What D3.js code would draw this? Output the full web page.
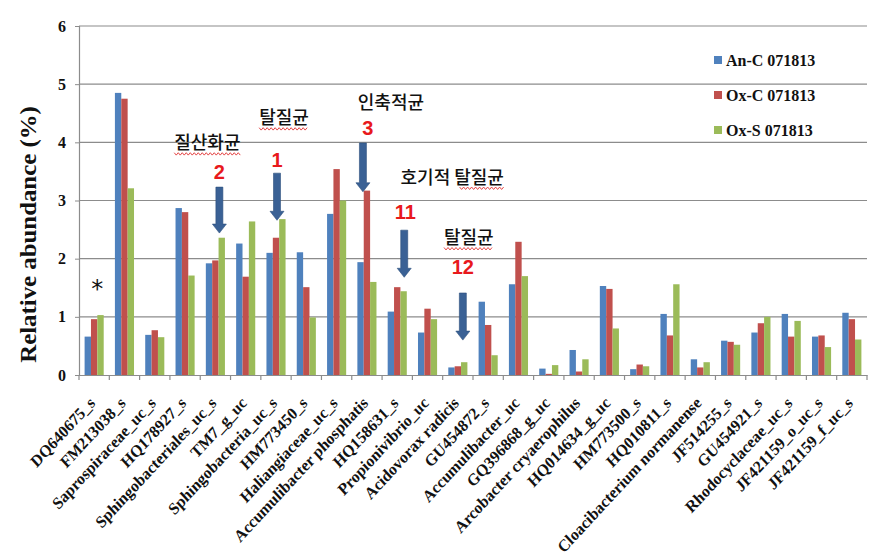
<!DOCTYPE html>
<html><head><meta charset="utf-8">
<script src="https://cdn.jsdelivr.net/npm/d3@7"></script>
<style>body{margin:0;background:#fff}svg{display:block}</style>
</head><body>
<script>
const categories = ["DQ640675_s","FM213038_s","Saprospiraceae_uc_s","HQ178927_s","Sphingobacteriales_uc_s","TM7_g_uc","Sphingobacteria_uc_s","HM773450_s","Haliangiaceae_uc_s","Accumulibacter phosphatis","HQ158631_s","Propionivibrio_uc","Acidovorax radicis","GU454872_s","Accumulibacter_uc","GQ396868_g_uc","Arcobacter cryaerophilus","HQ014634_g_uc","HM773500_s","HQ010811_s","Cloacibacterium normanense","JF514255_s","GU454921_s","Rhodocyclaceae_uc_s","JF421159_o_uc_s","JF421159_f_uc_s"];
const seriesNames = ["An-C 071813","Ox-C 071813","Ox-S 071813"];
const anC = [0.66,4.85,0.69,2.87,1.92,2.26,2.10,2.11,2.77,1.94,1.09,0.73,0.13,1.26,1.56,0.11,0.43,1.53,0.10,1.05,0.27,0.59,0.73,1.05,0.66,1.07];
const oxC = [0.96,4.75,0.77,2.80,1.97,1.69,2.36,1.51,3.54,3.17,1.51,1.14,0.15,0.86,2.29,0.02,0.06,1.48,0.18,0.68,0.13,0.57,0.89,0.66,0.68,0.96];
const oxS = [1.03,3.21,0.65,1.71,2.36,2.64,2.68,0.99,3.00,1.60,1.44,0.96,0.22,0.34,1.70,0.17,0.27,0.80,0.15,1.56,0.22,0.52,1.00,0.93,0.48,0.61];
const yTicks = [0,1,2,3,4,5,6];
const yTitle = "Relative abundance (%)";
const colors = ["#4F81BD","#C0504D","#9BBB59"];
// annotations: category, label text, number, vertical positions in data units, x offsets in px
const annotations = [
  {cat:"Sphingobacteriales_uc_s", label:"질산화균", num:"2", labelY:3.99, numY:3.49, arrowTop:3.23, arrowTip:2.44, labelDx:-8, numDx:4, arrowDx:4, wavy:[0,4]},
  {cat:"Sphingobacteria_uc_s", label:"탈질균", num:"1", labelY:4.42, numY:3.70, arrowTop:3.47, arrowTip:2.66, labelDx:8, numDx:1, arrowDx:1, wavy:[0,3]},
  {cat:"Accumulibacter phosphatis", label:"인축적균", num:"3", labelY:4.69, numY:4.25, arrowTop:3.99, arrowTip:3.15, labelDx:24, numDx:1, arrowDx:-4, wavy:null},
  {cat:"HQ158631_s", label:"호기적 탈질균", num:"11", labelY:3.40, numY:2.80, arrowTop:2.49, arrowTip:1.68, labelDx:55, numDx:8, arrowDx:7, wavy:[4,7]},
  {cat:"Acidovorax radicis", label:"탈질균", num:"12", labelY:2.36, numY:1.86, arrowTop:1.41, arrowTip:0.60, labelDx:11, numDx:5, arrowDx:5, wavy:[0,3]}
];
const starNote = {cat:"DQ640675_s", text:"*", y:1.58, dx:3};

const W = 887, H = 558;
const m = {left:79, right:20, top:26, bottom:183};
const svg = d3.select("body").append("svg").attr("width",W).attr("height",H);
const x = d3.scaleBand().domain(categories).range([m.left, W - m.right]).paddingInner(0).paddingOuter(0);
const xs = d3.scaleBand().domain(seriesNames).range([0, x.bandwidth()]).paddingOuter(0.88).paddingInner(0);
const y = d3.scaleLinear().domain([0,6]).range([H - m.bottom, m.top]);

// grid
svg.append("g").selectAll("line").data(yTicks.filter(d=>d>0)).join("line")
  .attr("x1", m.left).attr("x2", W - m.right)
  .attr("y1", d=>y(d)).attr("y2", d=>y(d))
  .attr("stroke","#8c8c8c").attr("stroke-width",1.2);

// bars
const data = [anC, oxC, oxS];
const g = svg.append("g");
seriesNames.forEach((s, si) => {
  g.append("g").selectAll("rect").data(categories).join("rect")
    .attr("x", c => x(c) + xs(s))
    .attr("width", xs.bandwidth())
    .attr("y", (c,i) => y(data[si][i]))
    .attr("height", (c,i) => y(0) - y(data[si][i]))
    .attr("fill", colors[si]);
});

// y axis
const yAxis = svg.append("g").attr("transform",`translate(${m.left},0)`)
  .call(d3.axisLeft(y).tickValues(yTicks).tickSize(4).tickPadding(9).tickFormat(d3.format("d")));
yAxis.select(".domain").attr("stroke","#8c8c8c").attr("stroke-width",1.2);
yAxis.selectAll(".tick line").attr("stroke","#8c8c8c");
yAxis.selectAll("text").attr("font-family","'Liberation Serif', serif").attr("font-weight","bold").attr("font-size",16).attr("fill","#111");

// x axis
const xAxis = svg.append("g").attr("transform",`translate(0,${y(0)})`)
  .call(d3.axisBottom(x).tickSize(0).tickFormat(""));
xAxis.select(".domain").attr("stroke","#8c8c8c").attr("stroke-width",1.2);
xAxis.selectAll(".tick").remove();
// boundary ticks
const bounds = categories.map(c => x(c)).concat([x(categories[categories.length-1]) + x.bandwidth()]);
svg.append("g").selectAll("line").data(bounds).join("line")
  .attr("x1", d=>d).attr("x2", d=>d).attr("y1", y(0)).attr("y2", y(0)+5)
  .attr("stroke","#8c8c8c").attr("stroke-width",1.2);

// x labels
svg.append("g").selectAll("text").data(categories).join("text")
  .attr("transform", c => `translate(${x(c)+x.bandwidth()/2+2},${y(0)+29}) scale(1,1.08) rotate(-45)`)
  .attr("text-anchor","end")
  .attr("font-family","'Liberation Serif', serif").attr("font-weight","bold").attr("font-size",15.6)
  .attr("fill","#111")
  .text(d=>d);

// y title
svg.append("text")
  .attr("transform", `translate(36,${(y(0)+y(6))/2+34}) scale(1,1.08) rotate(-90)`)
  .attr("text-anchor","middle")
  .attr("font-family","'Liberation Serif', serif").attr("font-weight","bold").attr("font-size",23)
  .attr("fill","#111")
  .text(yTitle);

// legend
const lg = svg.append("g").attr("transform","translate(714,60)");
seriesNames.forEach((s,i)=>{
  lg.append("rect").attr("x",0).attr("y",i*35-4).attr("width",8).attr("height",8).attr("fill",colors[i]);
  lg.append("text").attr("x",12).attr("y",i*35).attr("dy","0.35em")
    .attr("font-family","'Liberation Serif', serif").attr("font-weight","bold").attr("font-size",16)
    .attr("fill","#111").text(s);
});

// star
svg.append("text")
  .attr("x", x(starNote.cat)+x.bandwidth()/2+starNote.dx).attr("y", y(starNote.y)).attr("dy","0.6em")
  .attr("text-anchor","middle").attr("font-family","'DejaVu Sans', sans-serif").attr("font-size",24)
  .attr("fill","#111").text(starNote.text);

// annotations
const ag = svg.append("g");
annotations.forEach(a => {
  const cx = x(a.cat) + x.bandwidth()/2;
  const lt = ag.append("text")
    .attr("x", cx + a.labelDx).attr("y", y(a.labelY)).attr("dy","0.36em")
    .attr("text-anchor","middle")
    .attr("font-family","'Noto Sans CJK KR', sans-serif").attr("font-weight",500).attr("font-size",18)
    .attr("fill","#111").text(a.label);
  if (a.wavy) {
    const bb = lt.node().getBBox();
    const n = a.label.length;
    const cw = bb.width / n;
    const x0 = bb.x + a.wavy[0]*cw, x1 = bb.x + a.wavy[1]*cw;
    const yy = y(a.labelY) + 11;
    const pts = [];
    for (let px = x0, k=0; px <= x1; px += 2, k++) pts.push([px, yy + (k%2 ? 1.2 : -1.2)]);
    ag.append("path").attr("d", d3.line()(pts)).attr("fill","none").attr("stroke","#e03030").attr("stroke-width",0.9);
  }
  ag.append("text")
    .attr("x", cx + a.numDx).attr("y", y(a.numY)).attr("dy","0.36em")
    .attr("text-anchor","middle")
    .attr("font-family","'Liberation Sans', sans-serif").attr("font-weight","bold").attr("font-size",20)
    .attr("fill","#E8191C").text(a.num);
  const ax = cx + a.arrowDx, yt = y(a.arrowTop), yb = y(a.arrowTip);
  const sw = 3.5, hw = 7, hl = 9;
  const path = d3.path();
  path.moveTo(ax - sw, yt); path.lineTo(ax + sw, yt); path.lineTo(ax + sw, yb - hl);
  path.lineTo(ax + hw, yb - hl); path.lineTo(ax, yb); path.lineTo(ax - hw, yb - hl);
  path.lineTo(ax - sw, yb - hl); path.closePath();
  ag.append("path").attr("d", path.toString()).attr("fill","#3A6195").attr("stroke","#2C4F7C").attr("stroke-width",0.6);
});
</script>
</body></html>
